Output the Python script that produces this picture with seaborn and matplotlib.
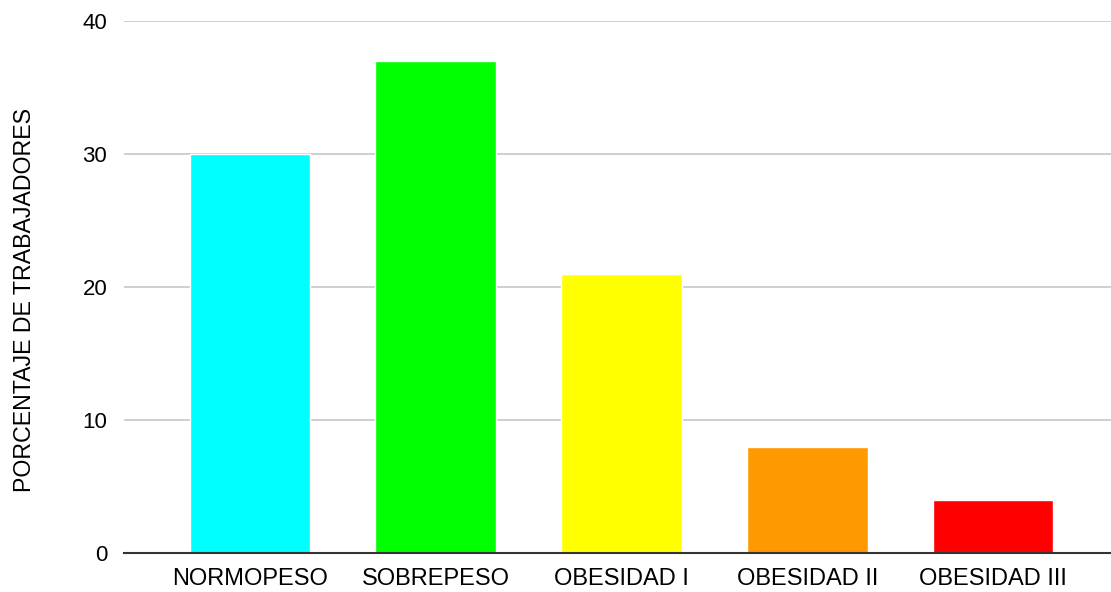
import matplotlib
matplotlib.use("Agg")
import matplotlib.pyplot as plt
import seaborn as sns
import pandas as pd

categories = ["NORMOPESO", "SOBREPESO", "OBESIDAD I", "OBESIDAD II", "OBESIDAD III"]
values = [30, 37, 21, 8, 4]
colors = ["#00FFFF", "#00FF00", "#FFFF00", "#FF9900", "#FF0000"]
yticks = [0, 10, 20, 30, 40]
ylabel = "PORCENTAJE DE TRABAJADORES"

sns.set_theme(style="white")
plt.rcParams["font.family"] = ["Liberation Sans", "DejaVu Sans"]

df = pd.DataFrame({"cat": categories, "val": values})

fig = plt.figure(figsize=(11.11, 5.92), dpi=100)
ax = fig.add_axes([124 / 1111, 1 - 553 / 592, (1111 - 124) / 1111, (553 - 21) / 592])

sns.barplot(data=df, x="cat", y="val", hue="cat", palette=colors, legend=False,
            width=0.65, saturation=1, ax=ax, zorder=3)

ax.set_xlim(-0.678, 4.635)
ax.set_ylim(0, 40)
ax.set_yticks(yticks)
ax.grid(axis="y", color="#cccccc", linewidth=1.3, zorder=0)
ax.grid(axis="x", visible=False)
for s in ["top", "right", "left"]:
    ax.spines[s].set_visible(False)
ax.spines["bottom"].set_color("#333333")
ax.spines["bottom"].set_linewidth(1.5)
ax.spines["bottom"].set_zorder(4)
ax.tick_params(axis="both", length=0)
ax.tick_params(axis="y", labelsize=16, pad=12, colors="#000000")
ax.tick_params(axis="x", labelsize=17, pad=11, colors="#000000")
ax.set_xlabel("")
ax.set_ylabel(ylabel, fontsize=16.7, color="#000000")
ax.yaxis.set_label_coords(-0.089, 0.4756)

fig.savefig("out.png", dpi=100)
